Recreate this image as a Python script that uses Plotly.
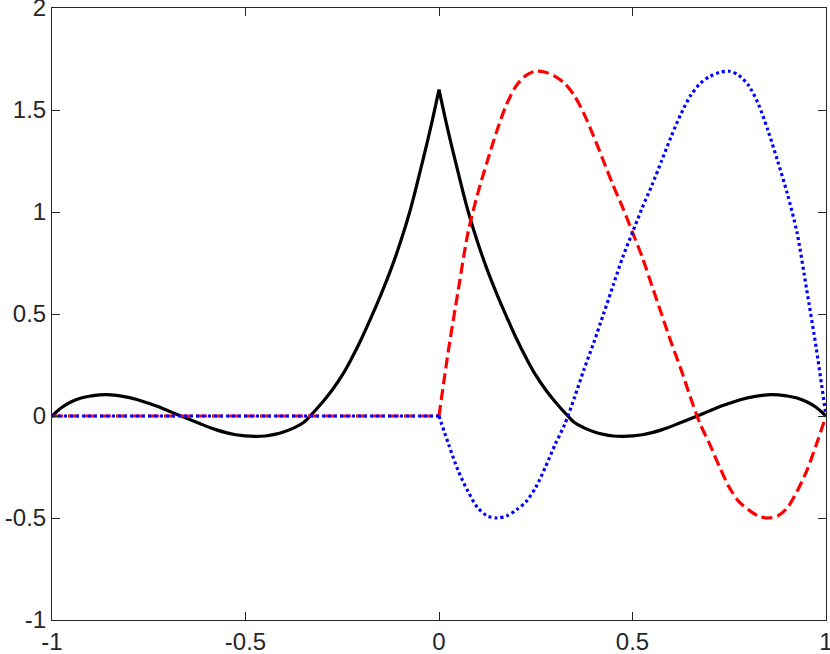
import plotly.graph_objects as go

# values
x_black = [-1, -0.975, -0.95, -0.925, -0.9, -0.86, -0.8, -0.75, -0.7, -0.667, -0.625, -0.575,
           -0.525, -0.475, -0.45, -0.425, -0.4, -0.375, -0.35, -0.333, -0.3, -0.275, -0.25,
           -0.225, -0.2, -0.175, -0.15, -0.125, -0.1, -0.075, -0.05, -0.025, 0,
           0.025, 0.05, 0.075, 0.1, 0.125, 0.15, 0.175, 0.2, 0.225, 0.25, 0.275, 0.3,
           0.333, 0.35, 0.375, 0.4, 0.425, 0.45, 0.475, 0.525, 0.575, 0.625, 0.667,
           0.7, 0.75, 0.8, 0.86, 0.9, 0.925, 0.95, 0.975, 1]
y_black = [0, 0.042, 0.07, 0.088, 0.098, 0.105, 0.09, 0.062, 0.026, 0, -0.032, -0.068,
           -0.092, -0.10, -0.098, -0.09, -0.077, -0.058, -0.032, 0, 0.07, 0.13, 0.20,
           0.285, 0.38, 0.485, 0.595, 0.715, 0.85, 1.005, 1.19, 1.385, 1.60,
           1.385, 1.19, 1.005, 0.85, 0.715, 0.595, 0.485, 0.38, 0.285, 0.20, 0.13, 0.07,
           0, -0.032, -0.058, -0.077, -0.09, -0.098, -0.10, -0.092, -0.068, -0.032, 0,
           0.026, 0.062, 0.09, 0.105, 0.098, 0.088, 0.07, 0.042, 0]

x_flat = [-1, 0]
y_flat = [0, 0]

x_fine = [0, 0.025, 0.05, 0.075, 0.1, 0.125, 0.15, 0.175, 0.2, 0.225, 0.25,
          0.275, 0.3, 0.325, 0.35, 0.375, 0.4, 0.425, 0.45, 0.475, 0.5,
          0.525, 0.55, 0.575, 0.6, 0.625, 0.65, 0.675, 0.7, 0.725, 0.75,
          0.775, 0.8, 0.825, 0.85, 0.875, 0.9, 0.925, 0.95, 0.975, 1]
y_red = [0, 0.33, 0.62, 0.90, 1.09, 1.25, 1.40, 1.53, 1.62, 1.67, 1.69,
         1.685, 1.665, 1.63, 1.57, 1.48, 1.37, 1.25, 1.13, 1.02, 0.90,
         0.78, 0.64, 0.50, 0.36, 0.23, 0.09, -0.04, -0.14, -0.25, -0.35,
         -0.42, -0.46, -0.49, -0.50, -0.49, -0.45, -0.37, -0.27, -0.14, 0]
y_blue = [0, -0.14, -0.27, -0.37, -0.45, -0.49, -0.50, -0.49, -0.46, -0.42, -0.35,
          -0.25, -0.14, -0.04, 0.09, 0.23, 0.36, 0.50, 0.64, 0.78, 0.90,
          1.02, 1.13, 1.25, 1.37, 1.48, 1.57, 1.63, 1.665, 1.685, 1.69,
          1.67, 1.62, 1.53, 1.40, 1.25, 1.09, 0.90, 0.62, 0.33, 0]

x_ticks = [-1, -0.5, 0, 0.5, 1]
x_ticktext = ["-1", "-0.5", "0", "0.5", "1"]
y_ticks = [-1, -0.5, 0, 0.5, 1, 1.5, 2]
y_ticktext = ["-1", "-0.5", "0", "0.5", "1", "1.5", "2"]

fig = go.Figure()

# black curve has a cusp at 0, so draw each half as its own smooth piece
mid = x_black.index(0)
black_line = dict(color="black", width=3.2, shape="spline", smoothing=1.2)
fig.add_trace(go.Scatter(x=x_black[:mid + 1], y=y_black[:mid + 1], mode="lines", line=black_line))
fig.add_trace(go.Scatter(x=x_black[mid:], y=y_black[mid:], mode="lines", line=black_line))

red_line = dict(color="red", width=3.2, dash="11px,5px")
fig.add_trace(go.Scatter(x=x_flat, y=y_flat, mode="lines", line=red_line))
fig.add_trace(go.Scatter(x=x_fine, y=y_red, mode="lines",
                         line=dict(red_line, shape="spline", smoothing=0.8)))

blue_line = dict(color="blue", width=3.2, dash="3px,3px")
fig.add_trace(go.Scatter(x=x_flat, y=y_flat, mode="lines", line=blue_line))
fig.add_trace(go.Scatter(x=x_fine, y=y_blue, mode="lines",
                         line=dict(blue_line, shape="spline", smoothing=0.8)))

axis_style = dict(showline=True, linecolor="#262626", linewidth=1, mirror="ticks",
                  ticks="inside", ticklen=8, tickcolor="#262626", tickwidth=1,
                  showgrid=False, zeroline=False, ticklabeloverflow="allow",
                  tickfont=dict(family="Liberation Sans, Arial", size=24, color="#262626"))

fig.update_xaxes(range=[-1, 1], tickvals=x_ticks, ticktext=x_ticktext, **axis_style)
fig.update_yaxes(range=[-1, 2], tickvals=y_ticks, ticktext=y_ticktext, **axis_style)

fig.update_layout(width=830, height=654, showlegend=False,
                  plot_bgcolor="white", paper_bgcolor="white",
                  margin=dict(l=52, r=4, t=8, b=34, autoexpand=False))

# page body has a default 8px margin that pushes the figure off the window
fig.write_html("out.html", config={"displayModeBar": False},
               post_script="document.body.style.margin='0';")
